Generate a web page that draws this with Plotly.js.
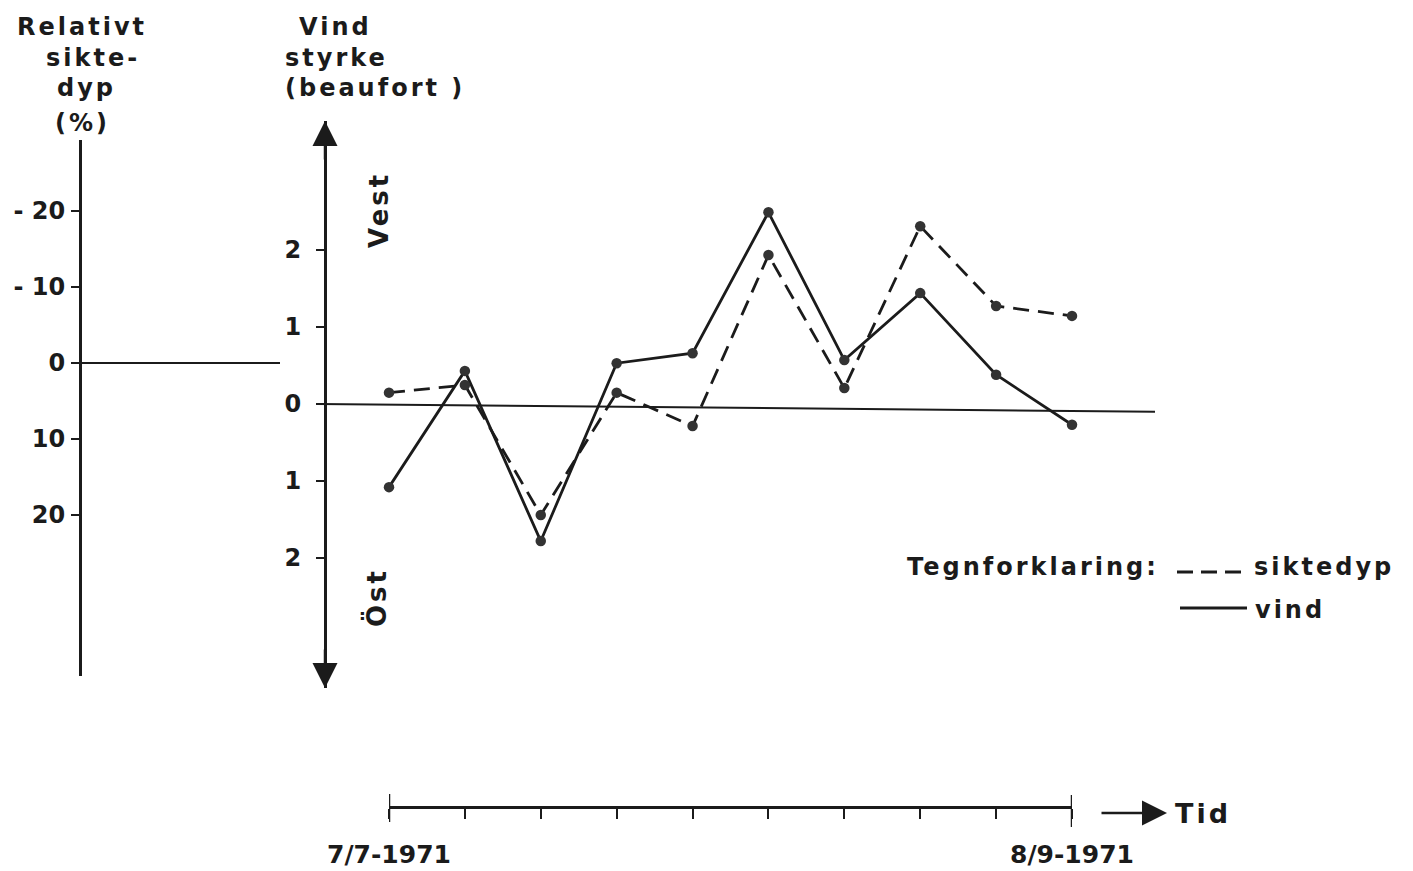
<!DOCTYPE html>
<html>
<head>
<meta charset="utf-8">
<script src="https://cdn.plot.ly/plotly-3.0.1.min.js"></script>
<style>
  html, body { margin: 0; padding: 0; background: #fff; }
  #chart { width: 1413px; height: 871px; }
  .annotation-text { letter-spacing: 3px; }
</style>
</head>
<body>
<div id="chart"></div>
<script>
// ---- data ----
const tidspunkt = [0, 1, 2, 3, 4, 5, 6, 7, 8, 9];
const datoEtiketter = ['7/7-1971', '', '', '', '', '', '', '', '', '8/9-1971'];
const vind = [-1.08, 0.43, -1.78, 0.53, 0.66, 2.49, 0.57, 1.44, 0.38, -0.27];      // beaufort (+ = vest, - = øst)
const siktedyp = [3.9, 2.9, 20.0, 3.9, 8.3, -14.2, 3.3, -18.0, -7.5, -6.2];      // relativt siktedyp (%)
const vindTickVals = [-2, -1, 0, 1, 2];
const vindTickText = ['2', '1', '0', '1', '2'];
const sikteTickVals = [-20, -10, 0, 10, 20];
const sikteTickText = ['- 20', '- 10', '0', '10', '20'];

// ---- layout helpers (pixel -> paper) ----
const W = 1413, H = 871;
const px = x => x / W;
const py = y => 1 - y / H;
const FONT = 'DejaVu Sans';
const INK = '#1b1b1b';

const traces = [
  {
    x: tidspunkt, y: siktedyp, yaxis: 'y2', xaxis: 'x',
    type: 'scatter', mode: 'lines+markers', name: 'siktedyp',
    line: { color: INK, width: 2.8, dash: '16px,9px' },
    marker: { color: '#333', size: 10.5 },
    cliponaxis: false, showlegend: false, hoverinfo: 'skip'
  },
  {
    x: tidspunkt, y: vind, yaxis: 'y', xaxis: 'x',
    type: 'scatter', mode: 'lines+markers', name: 'vind',
    line: { color: INK, width: 2.8 },
    marker: { color: '#333', size: 10.5 },
    cliponaxis: false, showlegend: false, hoverinfo: 'skip'
  }
];

// wind axis: 0 at y=404 px, 77 px per beaufort, spans 121..688 px
const windTop = 121, windBot = 688, windZero = 404, windPx = 77;
// sikte axis: 0 at y=363 px, 7.6 px per %, spans 140..676 px (reversed)
const sTop = 140, sBot = 676, sZero = 363, sPx = 7.6;

const tickFont = { family: FONT, size: 24, color: INK, weight: 'bold' };

const layout = {
  width: W, height: H,
  margin: { l: 0, r: 0, t: 0, b: 0 },
  paper_bgcolor: '#fff', plot_bgcolor: 'rgba(0,0,0,0)',
  showlegend: false,
  font: { family: FONT, color: INK },
  xaxis: {
    domain: [px(389), px(1072)], range: [0, 9],
    anchor: 'free', position: py(807),
    showline: true, linecolor: INK, linewidth: 2.5,
    ticks: 'outside', ticklen: 10, tickwidth: 2, tickcolor: INK,
    tickvals: tidspunkt, ticktext: datoEtiketter,
    tickfont: { family: FONT, size: 25, color: INK, weight: 'bold' },
    ticklabelstandoff: 14,
    showgrid: false, zeroline: false, fixedrange: true
  },
  yaxis: {
    domain: [py(windBot), py(windTop)],
    range: [(windZero - windBot) / windPx, (windZero - windTop) / windPx],
    anchor: 'free', position: px(325),
    showline: true, linecolor: INK, linewidth: 2.5,
    ticks: 'outside', ticklen: 8, tickwidth: 2, tickcolor: INK,
    tickvals: vindTickVals, ticktext: vindTickText,
    tickfont: tickFont, ticklabelstandoff: 10,
    showgrid: false, zeroline: false, fixedrange: true
  },
  yaxis2: {
    domain: [py(sBot), py(sTop)],
    range: [(sBot - sZero) / sPx, (sTop - sZero) / sPx],
    anchor: 'free', position: px(80),
    showline: true, linecolor: INK, linewidth: 2.5,
    ticks: 'outside', ticklen: 8, tickwidth: 2, tickcolor: INK,
    tickvals: sikteTickVals, ticktext: sikteTickText,
    tickfont: tickFont, ticklabelstandoff: 1,
    showgrid: false, zeroline: false, fixedrange: true
  },
  shapes: [
    // zero reference line of the sikte axis
    { type: 'line', xref: 'paper', yref: 'y2', x0: px(80), x1: px(280), y0: 0, y1: 0,
      line: { color: INK, width: 2 } },
    // zero reference line of the wind axis (hand-drawn, slightly sloping)
    { type: 'line', xref: 'paper', yref: 'y', x0: px(318), x1: px(1155), y0: 0, y1: -0.1,
      line: { color: INK, width: 2 } },
    // long end ticks of the time axis
    { type: 'line', xref: 'x', yref: 'paper', x0: 0, x1: 0, y0: py(794), y1: py(822),
      line: { color: INK, width: 2.5 } },
    { type: 'line', xref: 'x', yref: 'paper', x0: 9, x1: 9, y0: py(795), y1: py(827),
      line: { color: INK, width: 2.5 } },
    // legend samples
    { type: 'line', xref: 'paper', yref: 'paper', x0: px(1177), x1: px(1245), y0: py(572), y1: py(572),
      line: { color: INK, width: 2.8, dash: '16px,8px' } },
    { type: 'line', xref: 'paper', yref: 'paper', x0: px(1180), x1: px(1247), y0: py(608), y1: py(608),
      line: { color: INK, width: 2.8 } }
  ],
  annotations: [
    // left axis title
    { text: 'Relativt', x: px(82), y: py(27), xanchor: 'center', yanchor: 'middle' },
    { text: 'sikte-', x: px(93), y: py(58), xanchor: 'center', yanchor: 'middle' },
    { text: 'dyp', x: px(86), y: py(88), xanchor: 'center', yanchor: 'middle' },
    { text: '(%)', x: px(82), y: py(123), xanchor: 'center', yanchor: 'middle' },
    // wind axis title
    { text: 'Vind', x: px(297), y: py(27), xanchor: 'left', yanchor: 'middle' },
    { text: 'styrke', x: px(283), y: py(58), xanchor: 'left', yanchor: 'middle' },
    { text: '(beaufort )', x: px(283), y: py(88), xanchor: 'left', yanchor: 'middle' },
    // direction labels
    { text: 'Vest', x: px(379), y: py(210), textangle: -90, xanchor: 'center', yanchor: 'middle',
      font: { family: FONT, size: 26, color: INK, weight: 'bold' } },
    { text: 'Öst', x: px(376), y: py(598), textangle: -90, xanchor: 'center', yanchor: 'middle',
      font: { family: FONT, size: 26, color: INK, weight: 'bold' } },
    // legend
    { text: 'Tegnforklaring:', x: px(905), y: py(567), xanchor: 'left', yanchor: 'middle' },
    { text: 'siktedyp', x: px(1252), y: py(567), xanchor: 'left', yanchor: 'middle' },
    { text: 'vind', x: px(1253), y: py(610), xanchor: 'left', yanchor: 'middle' },
    // time label
    { text: 'Tid', x: px(1173), y: py(813), xanchor: 'left', yanchor: 'middle',
      font: { family: FONT, size: 27, color: INK, weight: 'bold' } },
    // arrows
    { text: '', x: px(325), y: py(windTop), xref: 'paper', yref: 'paper', showarrow: true,
      ax: 0, ay: 40, arrowhead: 2, arrowsize: 2, arrowwidth: 2.5, arrowcolor: INK, standoff: 0 },
    { text: '', x: px(325), y: py(windBot), xref: 'paper', yref: 'paper', showarrow: true,
      ax: 0, ay: -40, arrowhead: 2, arrowsize: 2, arrowwidth: 2.5, arrowcolor: INK, standoff: 0 },
    { text: '', x: px(1167), y: py(813), xref: 'paper', yref: 'paper', showarrow: true,
      ax: -67, ay: 0, arrowhead: 2, arrowsize: 2, arrowwidth: 2.5, arrowcolor: INK, standoff: 0 }
  ].map(a => Object.assign({ xref: 'paper', yref: 'paper', showarrow: false,
    font: { family: FONT, size: 24, color: INK, weight: 'bold' } }, a))
};

Plotly.newPlot('chart', traces, layout, { displayModeBar: false, staticPlot: true });
</script>
</body>
</html>
